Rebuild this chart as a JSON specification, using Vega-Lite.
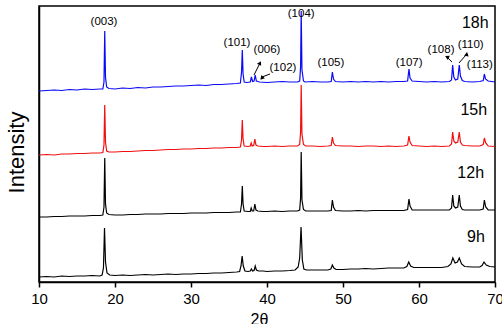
{
  "$schema": "https://vega.github.io/schema/vega-lite/v6.json",
  "width": 456,
  "height": 276,
  "autosize": {"type": "none"},
  "padding": {"left": 39, "top": 6, "right": 7, "bottom": 42},
  "background": "white",
  "config": {
    "view": {"stroke": "black", "strokeWidth": 1.5},
    "font": "Liberation Sans"
  },
  "datasets": {
    "xrd": [
      {"s":"18h","x":10,"y":191},{"s":"18h","x":11,"y":191.5},{"s":"18h","x":12,"y":192},{"s":"18h","x":13,"y":191.5},{"s":"18h","x":14,"y":192.5},{"s":"18h","x":15,"y":192},{"s":"18h","x":16,"y":193},{"s":"18h","x":17,"y":192.5},{"s":"18h","x":18,"y":193},{"s":"18h","x":18.4,"y":193},{"s":"18h","x":18.55,"y":200},{"s":"18h","x":18.65,"y":251},{"s":"18h","x":18.75,"y":205},{"s":"18h","x":18.9,"y":195},{"s":"18h","x":19.2,"y":193.5},{"s":"18h","x":20,"y":193},{"s":"18h","x":21,"y":194},{"s":"18h","x":22,"y":193.5},{"s":"18h","x":23,"y":194.5},{"s":"18h","x":24,"y":194},{"s":"18h","x":25,"y":195},{"s":"18h","x":26,"y":195},{"s":"18h","x":27,"y":195.5},{"s":"18h","x":28,"y":196},{"s":"18h","x":29,"y":196},{"s":"18h","x":30,"y":196.5},{"s":"18h","x":31,"y":197},{"s":"18h","x":32,"y":196.5},{"s":"18h","x":33,"y":197.5},{"s":"18h","x":34,"y":197.5},{"s":"18h","x":35,"y":198},{"s":"18h","x":36,"y":198.5},{"s":"18h","x":36.5,"y":199},{"s":"18h","x":36.65,"y":210},{"s":"18h","x":36.75,"y":232},{"s":"18h","x":36.85,"y":208},{"s":"18h","x":37,"y":200},{"s":"18h","x":37.3,"y":199.5},{"s":"18h","x":37.8,"y":200},{"s":"18h","x":37.95,"y":205},{"s":"18h","x":38.1,"y":200.5},{"s":"18h","x":38.3,"y":201},{"s":"18h","x":38.45,"y":207},{"s":"18h","x":38.6,"y":201},{"s":"18h","x":39,"y":200},{"s":"18h","x":40,"y":199.5},{"s":"18h","x":41,"y":200},{"s":"18h","x":42,"y":200.5},{"s":"18h","x":43,"y":200},{"s":"18h","x":44,"y":200},{"s":"18h","x":44.3,"y":201},{"s":"18h","x":44.42,"y":215},{"s":"18h","x":44.5,"y":271},{"s":"18h","x":44.6,"y":212},{"s":"18h","x":44.8,"y":201},{"s":"18h","x":45,"y":200},{"s":"18h","x":46,"y":200.5},{"s":"18h","x":47,"y":200},{"s":"18h","x":48,"y":200},{"s":"18h","x":48.45,"y":200.5},{"s":"18h","x":48.6,"y":210},{"s":"18h","x":48.75,"y":203},{"s":"18h","x":49,"y":200.5},{"s":"18h","x":50,"y":200},{"s":"18h","x":51,"y":200.5},{"s":"18h","x":52,"y":200},{"s":"18h","x":53,"y":200.5},{"s":"18h","x":54,"y":200},{"s":"18h","x":55,"y":200.5},{"s":"18h","x":56,"y":200},{"s":"18h","x":57,"y":200.5},{"s":"18h","x":58,"y":200.5},{"s":"18h","x":58.5,"y":201},{"s":"18h","x":58.68,"y":213},{"s":"18h","x":58.82,"y":204},{"s":"18h","x":59.1,"y":201},{"s":"18h","x":60,"y":200.5},{"s":"18h","x":61,"y":200},{"s":"18h","x":62,"y":200.5},{"s":"18h","x":63,"y":200},{"s":"18h","x":64,"y":200.5},{"s":"18h","x":64.28,"y":202},{"s":"18h","x":64.43,"y":217},{"s":"18h","x":64.58,"y":205},{"s":"18h","x":64.8,"y":202},{"s":"18h","x":65.1,"y":203},{"s":"18h","x":65.3,"y":217},{"s":"18h","x":65.45,"y":206},{"s":"18h","x":65.7,"y":201.5},{"s":"18h","x":66,"y":200.5},{"s":"18h","x":67,"y":200},{"s":"18h","x":68,"y":200.5},{"s":"18h","x":68.45,"y":201.5},{"s":"18h","x":68.6,"y":208},{"s":"18h","x":68.75,"y":203},{"s":"18h","x":69.1,"y":201},{"s":"18h","x":70,"y":200},

      {"s":"15h","x":10,"y":127},{"s":"15h","x":11,"y":127.5},{"s":"15h","x":12,"y":127},{"s":"15h","x":13,"y":128},{"s":"15h","x":14,"y":128},{"s":"15h","x":15,"y":128.5},{"s":"15h","x":16,"y":128.5},{"s":"15h","x":17,"y":129},{"s":"15h","x":18,"y":129},{"s":"15h","x":18.4,"y":129.5},{"s":"15h","x":18.55,"y":137},{"s":"15h","x":18.65,"y":177},{"s":"15h","x":18.75,"y":140},{"s":"15h","x":18.9,"y":131},{"s":"15h","x":19.2,"y":130},{"s":"15h","x":20,"y":130},{"s":"15h","x":21,"y":130.5},{"s":"15h","x":22,"y":130.5},{"s":"15h","x":23,"y":131},{"s":"15h","x":24,"y":131.5},{"s":"15h","x":25,"y":131.5},{"s":"15h","x":26,"y":132},{"s":"15h","x":27,"y":132.5},{"s":"15h","x":28,"y":132.5},{"s":"15h","x":29,"y":133},{"s":"15h","x":30,"y":133},{"s":"15h","x":31,"y":133.5},{"s":"15h","x":32,"y":133.5},{"s":"15h","x":33,"y":134},{"s":"15h","x":34,"y":134},{"s":"15h","x":35,"y":134.5},{"s":"15h","x":36,"y":134.5},{"s":"15h","x":36.5,"y":135},{"s":"15h","x":36.65,"y":142},{"s":"15h","x":36.75,"y":162},{"s":"15h","x":36.85,"y":143},{"s":"15h","x":37,"y":136},{"s":"15h","x":37.5,"y":135.5},{"s":"15h","x":37.8,"y":136},{"s":"15h","x":37.92,"y":139},{"s":"15h","x":38.05,"y":136},{"s":"15h","x":38.25,"y":136.5},{"s":"15h","x":38.4,"y":143},{"s":"15h","x":38.55,"y":137},{"s":"15h","x":38.8,"y":136},{"s":"15h","x":39.5,"y":135.5},{"s":"15h","x":40,"y":135.5},{"s":"15h","x":41,"y":136},{"s":"15h","x":42,"y":135.5},{"s":"15h","x":43,"y":136},{"s":"15h","x":44,"y":136},{"s":"15h","x":44.3,"y":137.5},{"s":"15h","x":44.42,"y":150},{"s":"15h","x":44.5,"y":197},{"s":"15h","x":44.6,"y":148},{"s":"15h","x":44.8,"y":137.5},{"s":"15h","x":45.1,"y":136},{"s":"15h","x":46,"y":136},{"s":"15h","x":47,"y":135.5},{"s":"15h","x":48,"y":136},{"s":"15h","x":48.45,"y":136.5},{"s":"15h","x":48.6,"y":145},{"s":"15h","x":48.75,"y":139},{"s":"15h","x":49,"y":136.5},{"s":"15h","x":50,"y":136},{"s":"15h","x":51,"y":136},{"s":"15h","x":52,"y":135.5},{"s":"15h","x":53,"y":136},{"s":"15h","x":54,"y":136},{"s":"15h","x":55,"y":135.5},{"s":"15h","x":56,"y":136},{"s":"15h","x":57,"y":135.5},{"s":"15h","x":58,"y":136},{"s":"15h","x":58.5,"y":137},{"s":"15h","x":58.68,"y":146},{"s":"15h","x":58.82,"y":140},{"s":"15h","x":59.1,"y":136.5},{"s":"15h","x":60,"y":136},{"s":"15h","x":61,"y":135.5},{"s":"15h","x":62,"y":136},{"s":"15h","x":63,"y":135.5},{"s":"15h","x":64,"y":136},{"s":"15h","x":64.28,"y":138},{"s":"15h","x":64.43,"y":150},{"s":"15h","x":64.58,"y":141},{"s":"15h","x":64.8,"y":139},{"s":"15h","x":65.1,"y":140},{"s":"15h","x":65.3,"y":150},{"s":"15h","x":65.45,"y":140},{"s":"15h","x":65.7,"y":137},{"s":"15h","x":66,"y":136.5},{"s":"15h","x":67,"y":136},{"s":"15h","x":68,"y":136},{"s":"15h","x":68.45,"y":137.5},{"s":"15h","x":68.6,"y":144},{"s":"15h","x":68.78,"y":139},{"s":"15h","x":69.1,"y":136},{"s":"15h","x":70,"y":135.5},

      {"s":"12h","x":10,"y":65},{"s":"12h","x":11,"y":65},{"s":"12h","x":12,"y":65.5},{"s":"12h","x":13,"y":65.5},{"s":"12h","x":14,"y":66},{"s":"12h","x":15,"y":66},{"s":"12h","x":16,"y":66},{"s":"12h","x":17,"y":66.5},{"s":"12h","x":18,"y":66.5},{"s":"12h","x":18.4,"y":67},{"s":"12h","x":18.55,"y":75},{"s":"12h","x":18.65,"y":124},{"s":"12h","x":18.75,"y":78},{"s":"12h","x":18.9,"y":69},{"s":"12h","x":19.2,"y":67.5},{"s":"12h","x":20,"y":67},{"s":"12h","x":21,"y":67},{"s":"12h","x":22,"y":67.5},{"s":"12h","x":23,"y":67.5},{"s":"12h","x":24,"y":68},{"s":"12h","x":25,"y":68},{"s":"12h","x":26,"y":68},{"s":"12h","x":27,"y":68.5},{"s":"12h","x":28,"y":68.5},{"s":"12h","x":29,"y":68.5},{"s":"12h","x":30,"y":69},{"s":"12h","x":31,"y":69},{"s":"12h","x":32,"y":69},{"s":"12h","x":33,"y":69.5},{"s":"12h","x":34,"y":69.5},{"s":"12h","x":35,"y":69.5},{"s":"12h","x":36,"y":70},{"s":"12h","x":36.5,"y":70},{"s":"12h","x":36.65,"y":78},{"s":"12h","x":36.75,"y":96},{"s":"12h","x":36.85,"y":78},{"s":"12h","x":37,"y":71},{"s":"12h","x":37.5,"y":70.5},{"s":"12h","x":37.8,"y":70.5},{"s":"12h","x":37.92,"y":74},{"s":"12h","x":38.05,"y":71},{"s":"12h","x":38.25,"y":71},{"s":"12h","x":38.4,"y":78},{"s":"12h","x":38.55,"y":72},{"s":"12h","x":38.8,"y":71},{"s":"12h","x":39.5,"y":70.5},{"s":"12h","x":40,"y":70.5},{"s":"12h","x":41,"y":71},{"s":"12h","x":42,"y":70.5},{"s":"12h","x":43,"y":71},{"s":"12h","x":44,"y":71},{"s":"12h","x":44.3,"y":72},{"s":"12h","x":44.42,"y":84},{"s":"12h","x":44.5,"y":130},{"s":"12h","x":44.6,"y":82},{"s":"12h","x":44.8,"y":72.5},{"s":"12h","x":45.1,"y":71},{"s":"12h","x":46,"y":71},{"s":"12h","x":47,"y":71},{"s":"12h","x":48,"y":71},{"s":"12h","x":48.45,"y":71.5},{"s":"12h","x":48.6,"y":82},{"s":"12h","x":48.75,"y":75},{"s":"12h","x":49,"y":71.5},{"s":"12h","x":50,"y":71},{"s":"12h","x":51,"y":71},{"s":"12h","x":52,"y":71.5},{"s":"12h","x":53,"y":71},{"s":"12h","x":54,"y":71.5},{"s":"12h","x":55,"y":71.5},{"s":"12h","x":56,"y":71.5},{"s":"12h","x":57,"y":71.5},{"s":"12h","x":58,"y":71.5},{"s":"12h","x":58.5,"y":72.5},{"s":"12h","x":58.68,"y":83},{"s":"12h","x":58.82,"y":76},{"s":"12h","x":59.1,"y":72},{"s":"12h","x":60,"y":72},{"s":"12h","x":61,"y":72},{"s":"12h","x":62,"y":72},{"s":"12h","x":63,"y":72},{"s":"12h","x":64,"y":72},{"s":"12h","x":64.28,"y":74},{"s":"12h","x":64.43,"y":87},{"s":"12h","x":64.58,"y":76},{"s":"12h","x":64.8,"y":74},{"s":"12h","x":65.1,"y":75},{"s":"12h","x":65.3,"y":87},{"s":"12h","x":65.45,"y":76},{"s":"12h","x":65.7,"y":72.5},{"s":"12h","x":66,"y":72},{"s":"12h","x":67,"y":72},{"s":"12h","x":68,"y":72},{"s":"12h","x":68.45,"y":73},{"s":"12h","x":68.6,"y":82},{"s":"12h","x":68.78,"y":75},{"s":"12h","x":69.1,"y":72},{"s":"12h","x":70,"y":72},

      {"s":"9h","x":10,"y":5},{"s":"9h","x":11,"y":5.5},{"s":"9h","x":12,"y":5},{"s":"9h","x":13,"y":6},{"s":"9h","x":14,"y":5.5},{"s":"9h","x":15,"y":6},{"s":"9h","x":16,"y":6},{"s":"9h","x":17,"y":6.5},{"s":"9h","x":18,"y":6},{"s":"9h","x":18.3,"y":7},{"s":"9h","x":18.48,"y":14},{"s":"9h","x":18.62,"y":54},{"s":"9h","x":18.75,"y":20},{"s":"9h","x":18.95,"y":9},{"s":"9h","x":19.3,"y":7},{"s":"9h","x":20,"y":6.5},{"s":"9h","x":21,"y":7},{"s":"9h","x":22,"y":6.5},{"s":"9h","x":23,"y":7},{"s":"9h","x":24,"y":7.5},{"s":"9h","x":25,"y":7},{"s":"9h","x":26,"y":7.5},{"s":"9h","x":27,"y":8},{"s":"9h","x":28,"y":7.5},{"s":"9h","x":29,"y":8},{"s":"9h","x":30,"y":8},{"s":"9h","x":31,"y":8.5},{"s":"9h","x":32,"y":8.5},{"s":"9h","x":33,"y":9},{"s":"9h","x":34,"y":9},{"s":"9h","x":35,"y":9.5},{"s":"9h","x":36,"y":10},{"s":"9h","x":36.4,"y":10.5},{"s":"9h","x":36.58,"y":16},{"s":"9h","x":36.73,"y":26},{"s":"9h","x":36.88,"y":16},{"s":"9h","x":37.1,"y":11},{"s":"9h","x":37.5,"y":10.5},{"s":"9h","x":37.8,"y":11},{"s":"9h","x":37.95,"y":13},{"s":"9h","x":38.1,"y":11},{"s":"9h","x":38.3,"y":11.5},{"s":"9h","x":38.45,"y":16},{"s":"9h","x":38.6,"y":12},{"s":"9h","x":38.9,"y":11},{"s":"9h","x":39.5,"y":11},{"s":"9h","x":40,"y":10.5},{"s":"9h","x":41,"y":11},{"s":"9h","x":42,"y":11},{"s":"9h","x":43,"y":11.5},{"s":"9h","x":43.7,"y":12},{"s":"9h","x":44.1,"y":15},{"s":"9h","x":44.3,"y":24},{"s":"9h","x":44.48,"y":55},{"s":"9h","x":44.65,"y":22},{"s":"9h","x":44.85,"y":13},{"s":"9h","x":45.2,"y":12},{"s":"9h","x":46,"y":12},{"s":"9h","x":47,"y":12},{"s":"9h","x":48,"y":12},{"s":"9h","x":48.4,"y":13},{"s":"9h","x":48.6,"y":17},{"s":"9h","x":48.8,"y":14},{"s":"9h","x":49.1,"y":12.5},{"s":"9h","x":50,"y":12.5},{"s":"9h","x":51,"y":13},{"s":"9h","x":52,"y":13},{"s":"9h","x":53,"y":13.5},{"s":"9h","x":54,"y":13},{"s":"9h","x":55,"y":13.5},{"s":"9h","x":56,"y":14},{"s":"9h","x":57,"y":14},{"s":"9h","x":58,"y":14},{"s":"9h","x":58.4,"y":15.5},{"s":"9h","x":58.65,"y":20},{"s":"9h","x":58.9,"y":16},{"s":"9h","x":59.3,"y":14.5},{"s":"9h","x":60,"y":14.5},{"s":"9h","x":61,"y":14.5},{"s":"9h","x":62,"y":14.5},{"s":"9h","x":63,"y":14.5},{"s":"9h","x":63.8,"y":15.5},{"s":"9h","x":64.2,"y":18},{"s":"9h","x":64.45,"y":24},{"s":"9h","x":64.75,"y":19},{"s":"9h","x":65.05,"y":20},{"s":"9h","x":65.3,"y":24},{"s":"9h","x":65.6,"y":18},{"s":"9h","x":66,"y":15.5},{"s":"9h","x":67,"y":15},{"s":"9h","x":68,"y":15},{"s":"9h","x":68.3,"y":16.5},{"s":"9h","x":68.55,"y":20},{"s":"9h","x":68.85,"y":17},{"s":"9h","x":69.3,"y":15.5},{"s":"9h","x":70,"y":15}
    ],
    "peaks": [
      {"label":"(003)","x":18.55,"y":260},
      {"label":"(101)","x":36.05,"y":239},
      {"label":"(006)","x":40.0,"y":232},
      {"label":"(102)","x":42.1,"y":214},
      {"label":"(104)","x":44.5,"y":268},
      {"label":"(105)","x":48.4,"y":219},
      {"label":"(107)","x":58.7,"y":219},
      {"label":"(108)","x":62.9,"y":232},
      {"label":"(110)","x":66.8,"y":237},
      {"label":"(113)","x":68.0,"y":217}
    ],
    "series": [
      {"label":"18h","x":67.4,"y":259},
      {"label":"15h","x":67.2,"y":172},
      {"label":"12h","x":66.8,"y":109},
      {"label":"9h","x":67.5,"y":45}
    ],
    "arrows": [
      {"id":"006","x":38.29,"y":207,"x2":39.08,"y2":219},
      {"id":"102","x":40.39,"y":208,"x2":39.34,"y2":205},
      {"id":"108","x":64.34,"y":220,"x2":63.68,"y2":225},
      {"id":"110","x":65.26,"y":219,"x2":66.18,"y2":227}
    ]
  },
  "layer": [
    {
      "data": {"name": "xrd"},
      "mark": {"type": "line", "strokeWidth": 1.2, "interpolate": "linear"},
      "encoding": {
        "x": {
          "field": "x", "type": "quantitative",
          "scale": {"domain": [10, 70], "nice": false, "zero": false},
          "axis": {
            "title": "2θ",
            "values": [10, 15, 20, 25, 30, 35, 40, 45, 50, 55, 60, 65, 70],
            "labelExpr": "datum.value % 10 === 0 ? datum.label : ''",
            "tickSize": {"condition": {"test": "datum.value % 10 === 0", "value": 5}, "value": 3},
            "tickColor": "black",
            "tickWidth": 1.5,
            "domainColor": "black",
            "domainWidth": 1.5,
            "grid": false,
            "labelFont": "Liberation Sans",
            "labelFontSize": 15,
            "labelColor": "black",
            "labelPadding": 4,
            "labelFlush": false,
            "titleFont": "Liberation Sans",
            "titleFontSize": 16,
            "titleFontWeight": "normal",
            "titleColor": "black",
            "titlePadding": 5,
            "titleX": 220
          }
        },
        "y": {
          "field": "y", "type": "quantitative",
          "scale": {"domain": [0, 276], "nice": false, "zero": false},
          "axis": {
            "title": "Intensity",
            "labels": false,
            "ticks": false,
            "grid": false,
            "domainColor": "black",
            "domainWidth": 1.5,
            "titleFont": "Liberation Sans",
            "titleFontSize": 22,
            "titleFontWeight": "normal",
            "titleColor": "black",
            "titlePadding": 11,
            "titleY": 146
          }
        },
        "color": {
          "field": "s", "type": "nominal",
          "scale": {"domain": ["18h", "15h", "12h", "9h"], "range": ["#0a0af5", "#f01010", "#000000", "#000000"]},
          "legend": null
        }
      }
    },
    {
      "data": {"name": "peaks"},
      "mark": {"type": "text", "font": "Liberation Sans", "fontSize": 11.5, "color": "black", "baseline": "middle", "align": "center"},
      "encoding": {
        "x": {"field": "x", "type": "quantitative"},
        "y": {"field": "y", "type": "quantitative"},
        "text": {"field": "label"}
      }
    },
    {
      "data": {"name": "series"},
      "mark": {"type": "text", "font": "Liberation Sans", "fontSize": 16, "color": "black", "baseline": "middle", "align": "center"},
      "encoding": {
        "x": {"field": "x", "type": "quantitative"},
        "y": {"field": "y", "type": "quantitative"},
        "text": {"field": "label"}
      }
    },
    {
      "data": {"name": "arrows"},
      "mark": {"type": "rule", "color": "black", "strokeWidth": 1},
      "encoding": {
        "x": {"field": "x", "type": "quantitative"},
        "y": {"field": "y", "type": "quantitative"},
        "x2": {"field": "x2"},
        "y2": {"field": "y2"}
      }
    },
    {
      "data": {"name": "arrows"},
      "mark": {"type": "point", "shape": "triangle-up", "filled": true, "color": "black", "size": 22, "opacity": 1},
      "encoding": {
        "x": {"field": "x2", "type": "quantitative"},
        "y": {"field": "y2", "type": "quantitative"},
        "angle": {"field": "id", "type": "nominal", "scale": {"domain": ["006", "102", "108", "110"], "range": [27, -110, -37, 39]}, "legend": null}
      }
    }
  ]
}
